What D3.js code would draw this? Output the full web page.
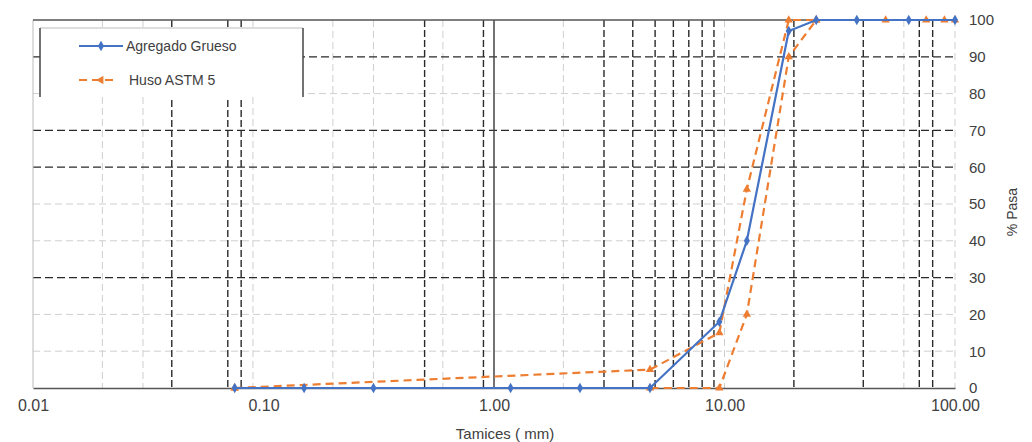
<!DOCTYPE html>
<html><head><meta charset="utf-8">
<script src="https://cdn.jsdelivr.net/npm/d3@7"></script>
<style>
html,body{margin:0;padding:0;background:#fff;}
svg text{font-family:"Liberation Sans",Arial,sans-serif;fill:#404040;}
</style></head>
<body><svg id="c" width="1032" height="442"></svg>
<script>
// ---- data ----
const sieveSizes = [0.075, 0.15, 0.3, 1.18, 2.36, 4.75, 9.5, 12.5, 19, 25, 37.5, 63, 100];
const agregadoGrueso = [0, 0, 0, 0, 0, 0, 18, 40, 97, 100, 100, 100, 100];
const husoSupSizes = [0.075, 4.75, 9.5, 12.5, 19, 25, 50, 75, 90, 100];
const husoSup = [0, 5, 15, 54, 100, 100, 100, 100, 100, 100];
const husoInfSizes = [0.075, 4.75, 9.5, 12.5, 19, 25];
const husoInf = [0, 0, 0, 20, 90, 100];
const xTickValues = [0.01, 0.1, 1, 10, 100];
const yTickValues = [0, 10, 20, 30, 40, 50, 60, 70, 80, 90, 100];
const darkVLines = [0.04, 0.07, 0.08, 0.5, 0.9, 3, 4, 5, 6, 7, 8, 9, 20, 40, 70, 80];
const lightVLines = [0.02, 0.03, 0.09, 0.2, 0.3, 0.6, 2, 10, 60, 100];
const darkHLines = [90, 70, 60, 30];
const lightHLines = [80, 50, 40, 20, 10];
const seriesNames = ["Agregado Grueso", "Huso ASTM 5"];
const xTitle = "Tamices ( mm)";
const yTitle = "% Pasa";

// ---- drawing ----
const svg = d3.select("#c");
const L = 33, R = 955, T = 20, B = 388;
const x = d3.scaleLog().domain([0.01, 100]).range([L, R]);
const y = d3.scaleLinear().domain([0, 100]).range([B, T]);
const blue = "#4472C4", orange = "#ED7D31";

const g = svg.append("g");
// light gridlines
g.selectAll(".lh").data(lightHLines).join("line")
  .attr("x1", L).attr("x2", R).attr("y1", d => y(d)).attr("y2", d => y(d))
  .attr("stroke", "#cfcfcf").attr("stroke-width", 1).attr("stroke-dasharray", "7,4");
g.selectAll(".lv").data(lightVLines).join("line")
  .attr("x1", d => x(d)).attr("x2", d => x(d)).attr("y1", T).attr("y2", B)
  .attr("stroke", "#cfcfcf").attr("stroke-width", 1).attr("stroke-dasharray", "7,4");
// dark gridlines
g.selectAll(".dh").data(darkHLines).join("line")
  .attr("x1", L).attr("x2", R).attr("y1", d => y(d)).attr("y2", d => y(d))
  .attr("stroke", "#2a2a2a").attr("stroke-width", 1.3).attr("stroke-dasharray", "8,4");
g.selectAll(".dv").data(darkVLines).join("line")
  .attr("x1", d => x(d)).attr("x2", d => x(d)).attr("y1", T).attr("y2", B)
  .attr("stroke", "#2a2a2a").attr("stroke-width", 1.4).attr("stroke-dasharray", "7,3");
// frame
g.append("line").attr("x1", L).attr("x2", L).attr("y1", T).attr("y2", B).attr("stroke", "#bbb");
g.append("line").attr("x1", x(1)).attr("x2", x(1)).attr("y1", T).attr("y2", B).attr("stroke", "#444").attr("stroke-width", 1.5);
g.append("line").attr("x1", L).attr("x2", R).attr("y1", T).attr("y2", T).attr("stroke", "#555").attr("stroke-width", 1.5);

// x axis
const xAxis = d3.axisBottom(x).tickValues(xTickValues).tickFormat(d3.format(".2f")).tickSize(0).tickPadding(12);
const xa = svg.append("g").attr("transform", `translate(0,${B})`).call(xAxis);
xa.select(".domain").attr("stroke", "#555").attr("stroke-width", 1.5);
xa.selectAll("text").style("font-size", "16px").style("font-family", "Liberation Sans, Arial").attr("fill", "#404040");

// y axis on right
const yAxis = d3.axisRight(y).tickValues(yTickValues).tickFormat(d3.format("d")).tickSize(0).tickPadding(14);
const ya = svg.append("g").attr("transform", `translate(${R},0)`).call(yAxis);
ya.select(".domain").remove();
ya.selectAll("text").style("font-size", "15px").style("font-family", "Liberation Sans, Arial").attr("fill", "#404040");

svg.append("text").attr("x", 505).attr("y", 439).attr("text-anchor", "middle")
  .style("font-size", "15px").text(xTitle);
svg.append("text").attr("transform", "translate(1017,212) rotate(-90)").attr("text-anchor", "middle")
  .style("font-size", "14px").text(yTitle);

// series
const line = d3.line().x(d => x(d[0])).y(d => y(d[1]));
const supPts = husoSupSizes.map((s, i) => [s, husoSup[i]]);
const infPts = husoInfSizes.map((s, i) => [s, husoInf[i]]);
const agPts = sieveSizes.map((s, i) => [s, agregadoGrueso[i]]);
const tri = d3.symbol().type(d3.symbolTriangle).size(30);
const dia = d3.symbol().type(d3.symbolDiamond).size(32);

[supPts, infPts].forEach(pts => {
  svg.append("path").datum(pts).attr("d", line).attr("fill", "none")
    .attr("stroke", orange).attr("stroke-width", 2.2).attr("stroke-dasharray", "8,5");
  svg.selectAll(null).data(pts).join("path").attr("d", tri)
    .attr("transform", d => `translate(${x(d[0])},${y(d[1])})`).attr("fill", orange);
});
svg.append("path").datum(agPts).attr("d", line).attr("fill", "none")
  .attr("stroke", blue).attr("stroke-width", 2.2);
svg.selectAll(null).data(agPts).join("path").attr("d", dia)
  .attr("transform", d => `translate(${x(d[0])},${y(d[1])})`).attr("fill", blue);

// legend
const lg = svg.append("g");
lg.append("rect").attr("x", 40).attr("y", 28).attr("width", 263).attr("height", 69).attr("fill", "#fff");
lg.append("line").attr("x1", 40).attr("x2", 303).attr("y1", 28).attr("y2", 28).attr("stroke", "#bbb");
lg.append("line").attr("x1", 40).attr("x2", 40).attr("y1", 28).attr("y2", 97).attr("stroke", "#444").attr("stroke-width", 1.5);
lg.append("line").attr("x1", 303).attr("x2", 303).attr("y1", 28).attr("y2", 97).attr("stroke", "#444").attr("stroke-width", 1.5);
lg.append("line").attr("x1", 79).attr("x2", 123).attr("y1", 46).attr("y2", 46).attr("stroke", blue).attr("stroke-width", 2.2);
lg.append("path").attr("d", dia).attr("transform", "translate(101,46)").attr("fill", blue);
lg.append("text").attr("x", 126).attr("y", 51).style("font-size", "14px").text(seriesNames[0]);
lg.append("line").attr("x1", 79).attr("x2", 113).attr("y1", 80).attr("y2", 80).attr("stroke", orange).attr("stroke-width", 2.2).attr("stroke-dasharray", "8,5");
lg.append("path").attr("d", tri).attr("transform", "translate(101,80) rotate(-90)").attr("fill", orange);
lg.append("text").attr("x", 129).attr("y", 85).style("font-size", "14px").text(seriesNames[1]);
</script></body></html>
